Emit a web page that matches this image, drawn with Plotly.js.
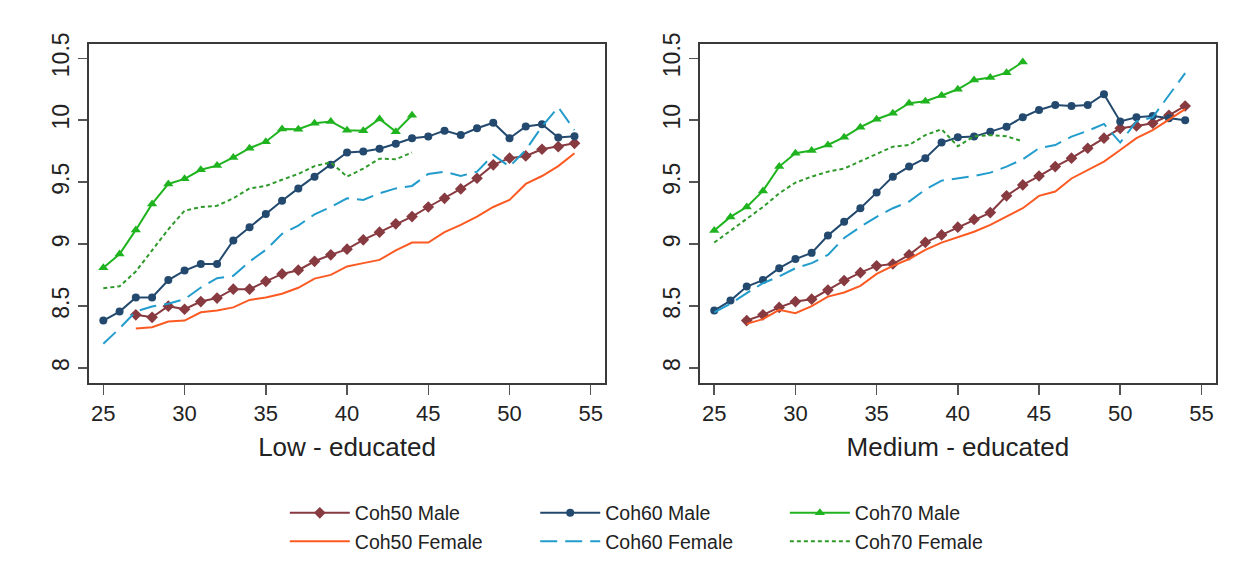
<!DOCTYPE html>
<html>
<head>
<meta charset="utf-8">
<script src="https://cdn.plot.ly/plotly-3.0.1.min.js"></script>
<style>html,body{margin:0;padding:0;background:#fff;}#chart{width:1247px;height:573px;}</style>
</head>
<body>
<div id="chart"></div>
<script>
// Ages (x values)
const ages70 = [25,26,27,28,29,30,31,32,33,34,35,36,37,38,39,40,41,42,43,44];
const ages60 = [25,26,27,28,29,30,31,32,33,34,35,36,37,38,39,40,41,42,43,44,45,46,47,48,49,50,51,52,53,54];
const ages50 = [27,28,29,30,31,32,33,34,35,36,37,38,39,40,41,42,43,44,45,46,47,48,49,50,51,52,53,54];

// Low - educated
const low_c50m = [8.43,8.41,8.50,8.475,8.537,8.565,8.637,8.637,8.70,8.76,8.79,8.862,8.914,8.96,9.035,9.097,9.164,9.223,9.30,9.37,9.446,9.532,9.64,9.694,9.712,9.766,9.787,9.814];
const low_c50f = [8.32,8.33,8.376,8.384,8.45,8.465,8.49,8.55,8.57,8.60,8.648,8.722,8.752,8.82,8.847,8.873,8.95,9.013,9.013,9.097,9.156,9.223,9.30,9.357,9.486,9.55,9.63,9.734];
const low_c60m = [8.384,8.456,8.57,8.57,8.71,8.787,8.84,8.84,9.03,9.137,9.244,9.35,9.45,9.545,9.64,9.74,9.747,9.77,9.81,9.855,9.868,9.916,9.88,9.935,9.98,9.855,9.95,9.968,9.86,9.87];
const low_c60f = [8.196,8.32,8.457,8.497,8.52,8.556,8.65,8.725,8.745,8.86,8.954,9.083,9.15,9.24,9.30,9.37,9.357,9.41,9.45,9.47,9.567,9.585,9.55,9.585,9.72,9.626,9.76,9.95,10.105,9.92];
const low_c70m = [8.81,8.92,9.115,9.325,9.486,9.527,9.60,9.634,9.70,9.774,9.827,9.93,9.927,9.975,9.99,9.92,9.916,10.01,9.908,10.04];
const low_c70f = [8.645,8.66,8.78,8.95,9.12,9.27,9.30,9.31,9.37,9.45,9.47,9.52,9.567,9.63,9.66,9.545,9.61,9.69,9.685,9.74];

// Medium - educated
const med_c50m = [8.384,8.43,8.49,8.537,8.556,8.63,8.706,8.77,8.825,8.84,8.914,9.015,9.075,9.137,9.20,9.255,9.39,9.478,9.55,9.626,9.694,9.774,9.855,9.935,9.954,9.976,10.04,10.115];
const med_c50f = [8.357,8.395,8.47,8.443,8.50,8.577,8.61,8.664,8.76,8.825,8.88,8.954,9.013,9.056,9.10,9.156,9.223,9.29,9.39,9.425,9.53,9.60,9.666,9.76,9.855,9.92,10.008,10.09];
const med_c60m = [8.464,8.545,8.658,8.71,8.806,8.88,8.93,9.07,9.18,9.29,9.416,9.545,9.626,9.694,9.82,9.863,9.868,9.908,9.948,10.024,10.083,10.123,10.115,10.123,10.21,9.99,10.024,10.035,10.016,10.0];
const med_c60f = [8.45,8.52,8.605,8.685,8.74,8.806,8.847,8.914,9.05,9.14,9.22,9.29,9.344,9.44,9.513,9.53,9.55,9.577,9.626,9.685,9.774,9.80,9.868,9.914,9.97,9.82,9.99,10.024,10.20,10.38];
const med_c70m = [9.11,9.22,9.30,9.43,9.626,9.734,9.755,9.80,9.863,9.944,10.008,10.056,10.137,10.153,10.20,10.25,10.325,10.344,10.384,10.47];
const med_c70f = [9.013,9.11,9.21,9.30,9.41,9.497,9.545,9.585,9.61,9.666,9.728,9.787,9.80,9.88,9.927,9.79,9.87,9.88,9.87,9.83];

const seriesNames = ['Coh50 Male','Coh60 Male','Coh70 Male','Coh50 Female','Coh60 Female','Coh70 Female'];
const xTicks = [25,30,35,40,45,50,55];
const yTicks = [8,8.5,9,9.5,10,10.5];
const yTickText = ['8','8.5','9','9.5','10','10.5'];
const panelTitles = ['Low - educated','Medium - educated'];

// legend column for each series (one small legend per cohort column)
const legendOf = ['legend','legend2','legend3','legend','legend2','legend3'];

const styles = [
  {mode:'lines+markers', line:{color:'#873a40', width:2}, marker:{symbol:'diamond', size:9, color:'#873a40'}},
  {mode:'lines+markers', line:{color:'#234a6e', width:2}, marker:{symbol:'circle', size:8, color:'#234a6e'}},
  {mode:'lines+markers', line:{color:'#1fb41f', width:2}, marker:{symbol:'triangle-up', size:9, color:'#1fb41f'}},
  {mode:'lines', line:{color:'#fc5a22', width:2}},
  {mode:'lines', line:{color:'#229ccc', width:2, dash:'17px,8px'}},
  {mode:'lines', line:{color:'#2e9a2a', width:2, dash:'4px,3px'}}
];

const panels = [
  {xa:'x', ya:'y', data:[[ages50,low_c50m],[ages60,low_c60m],[ages70,low_c70m],[ages50,low_c50f],[ages60,low_c60f],[ages70,low_c70f]]},
  {xa:'x2', ya:'y2', data:[[ages50,med_c50m],[ages60,med_c60m],[ages70,med_c70m],[ages50,med_c50f],[ages60,med_c60f],[ages70,med_c70f]]}
];

const traces = [];
panels.forEach((p, pi) => {
  p.data.forEach((d, i) => {
    traces.push(Object.assign({
      type:'scatter', x:d[0], y:d[1], xaxis:p.xa, yaxis:p.ya,
      name:seriesNames[i], legendgroup:seriesNames[i], legend:legendOf[i], showlegend: pi===0,
      hoverinfo:'x+y+name'
    }, JSON.parse(JSON.stringify(styles[i]))));
  });
});

function xAxis(domain, title, anchor){
  return {domain:domain, anchor:anchor, range:[24.12,55.88], tickvals:xTicks, ticks:'outside', ticklen:10, tickwidth:1.5, tickcolor:'#555',
    showline:true, linecolor:'#3a3a3a', linewidth:2, mirror:true, showgrid:false, zeroline:false, automargin:false,
    tickfont:{size:22, color:'#222'}, title:{text:title, font:{size:26, color:'#222'}, standoff:12}};
}
function yAxis(domain, anchor){
  return {domain:domain, anchor:anchor, range:[7.88,10.615], tickvals:yTicks, ticktext:yTickText, tickangle:-90,
    ticks:'outside', ticklen:9, tickwidth:1.5, tickcolor:'#555',
    showline:true, linecolor:'#3a3a3a', linewidth:2, mirror:true, showgrid:false, zeroline:false, automargin:false,
    tickfont:{size:23, color:'#222'}};
}

function legendAt(x){
  return {orientation:'v', x:x, xanchor:'left', y:0.1385, yanchor:'top', itemwidth:60,
    traceorder:'grouped', tracegroupgap:0, font:{size:19.5, color:'#222'}, bgcolor:'rgba(0,0,0,0)', borderwidth:0};
}

const layout = {
  width:1247, height:573,
  margin:{l:0, r:0, t:0, b:0, autoexpand:false},
  paper_bgcolor:'#fff', plot_bgcolor:'#fff',
  font:{family:'Liberation Sans, Arial, sans-serif', color:'#222'},
  xaxis: xAxis([0.0714,0.4852], panelTitles[0], 'y'),
  yaxis: yAxis([0.3316,0.9232], 'x'),
  xaxis2: xAxis([0.5613,0.9749], panelTitles[1], 'y2'),
  yaxis2: yAxis([0.3316,0.9232], 'x2'),
  showlegend:true,
  legend: legendAt(0.2284),
  legend2: legendAt(0.4292),
  legend3: legendAt(0.6294)
};

Plotly.newPlot('chart', traces, layout, {displayModeBar:false, staticPlot:true});
</script>
</body>
</html>
